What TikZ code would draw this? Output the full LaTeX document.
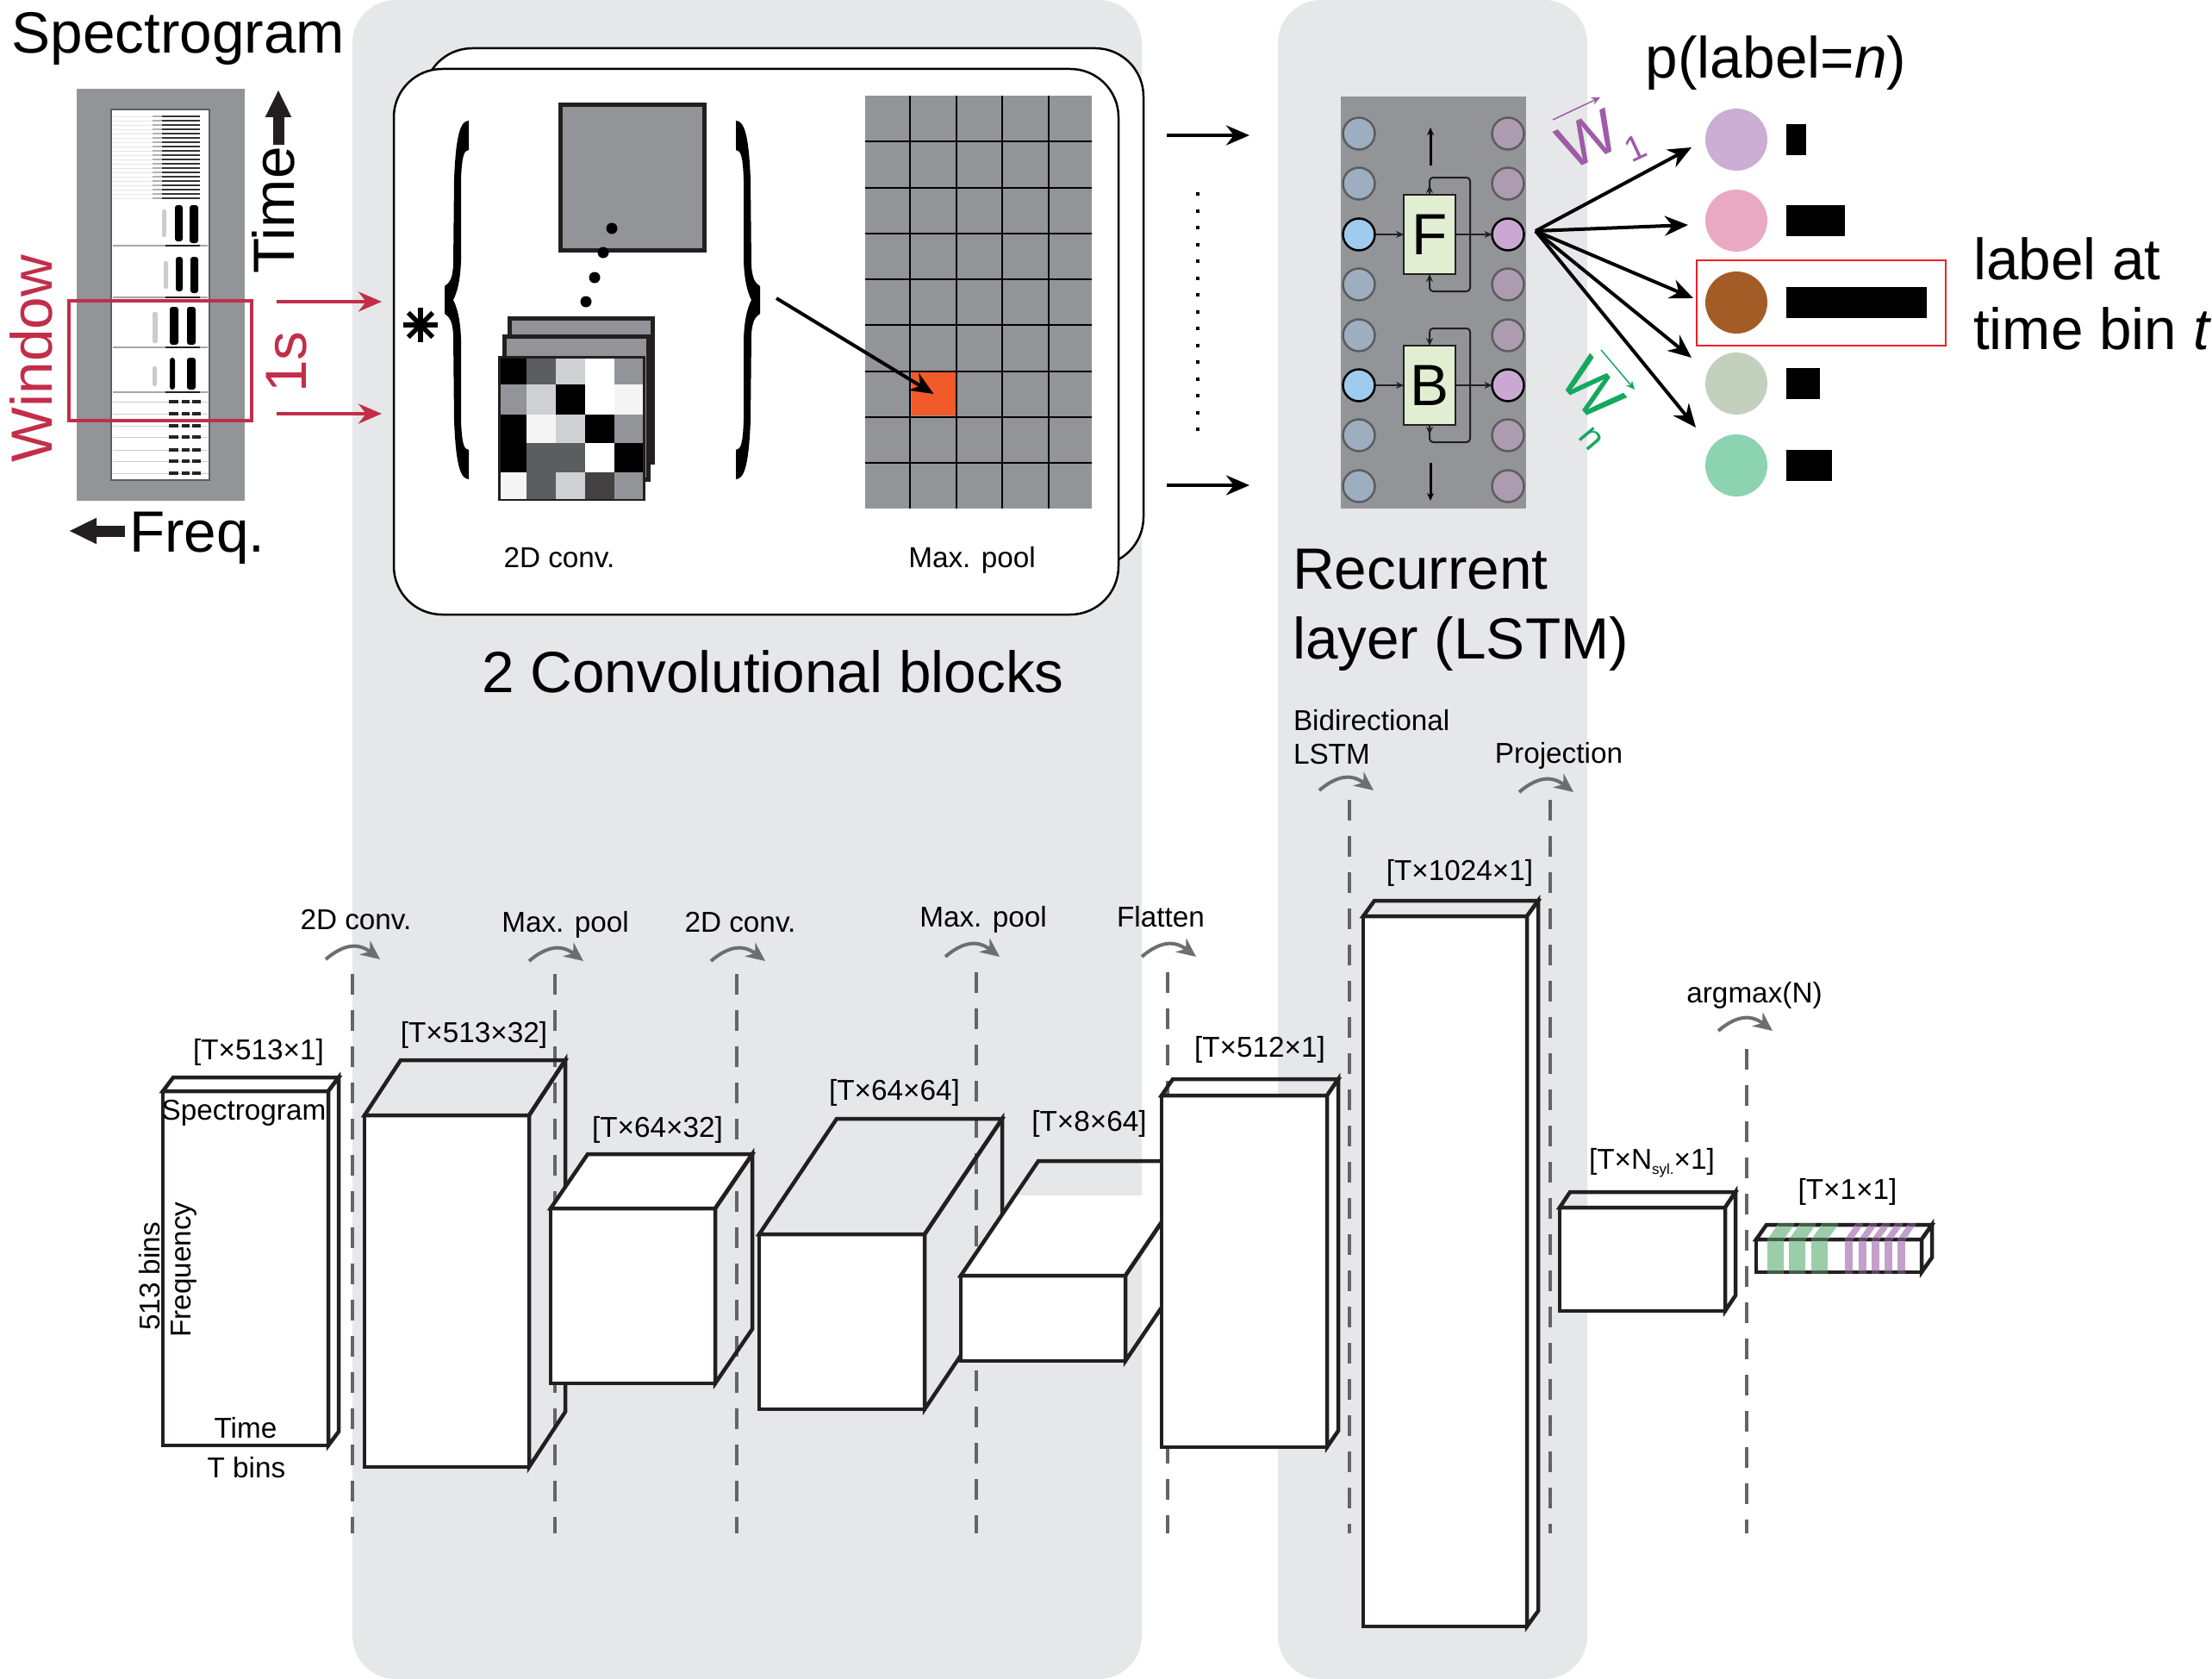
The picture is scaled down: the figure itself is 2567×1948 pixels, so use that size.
\documentclass[tikz,border=0pt]{standalone}
\usepackage{fontspec}
\setmainfont{Liberation Sans}
\usetikzlibrary{arrows.meta,calc}

\definecolor{panelgray}{HTML}{E6E7E8}
\definecolor{cellgray}{HTML}{929497}
\definecolor{darkcell}{HTML}{5C5D5F}
\definecolor{lightcell}{HTML}{CFD0D2}
\definecolor{offwhite}{HTML}{F4F5F4}
\definecolor{inkblack}{HTML}{231F20}
\definecolor{dashgray}{HTML}{636466}
\definecolor{bendgray}{HTML}{6D6E71}
\definecolor{windowred}{HTML}{C22E4A}
\definecolor{labelred}{HTML}{ED2024}
\definecolor{poolorange}{HTML}{F15A29}
\definecolor{cellgreen}{HTML}{E2EED2}
\definecolor{wpurple}{HTML}{9E5BA8}
\definecolor{wgreen}{HTML}{15A85F}
\definecolor{stripegreen}{HTML}{9ACDA8}
\definecolor{stripepurple}{HTML}{C3A0CC}
\definecolor{lstmblue}{HTML}{9CAEBF}
\definecolor{lstmmauve}{HTML}{AD9CB0}
\definecolor{lstmsky}{HTML}{9FCBEF}
\definecolor{lstmlilac}{HTML}{CBA8D3}

% one layer of the network: front face is the node, then top and side faces
\newcommand{\layerbox}[9]{
  \node[frontface, minimum width=#4pt, minimum height=#5pt] (#1) at (#2,#3) {};
  \draw[boxline, fill=#8] (#1.north west) -- ++(#6,#7) -- ++(#4,0) -- (#1.north east) -- cycle;
  \draw[boxline, fill=#9] (#1.north east) -- ++(#6,#7) -- ++(0,#5) -- (#1.south east) -- cycle;
}

\begin{document}
\begin{tikzpicture}[x=1pt, y=-1pt,
  every node/.style = {inner sep=0pt, outer sep=0pt},
  bigtext/.style = {font=\fontsize{67.5}{81}\selectfont},
  smalltext/.style = {font=\fontsize{33.3}{39}\selectfont},
  weighttext/.style = {font=\fontsize{72}{81}\selectfont},
  subtext/.style = {font=\fontsize{41}{45}\selectfont},
  panel/.style = {fill=panelgray, rounded corners=50pt, anchor=north west},
  card/.style = {draw=black, fill=white, line width=2.5pt, rounded corners=56pt, anchor=north west},
  frontface/.style = {draw=inkblack, fill=white, line width=4.5pt, anchor=north west},
  boxline/.style = {draw=inkblack, line width=4.5pt, line join=miter},
  filterbox/.style = {draw=inkblack, fill=cellgray, line width=5pt, anchor=north west},
  lstmcell/.style = {draw=inkblack, fill=cellgreen, line width=2pt, anchor=center,
    minimum width=60pt, minimum height=92pt},
  incircle/.style = {circle, draw=#1, line width=2.5pt, minimum size=37pt},
  redarrow/.style = {-{Stealth[length=27pt,width=23pt]}, draw=windowred, line width=4pt},
  blackarrow/.style = {-{Stealth[length=27pt,width=23pt]}, draw=black, line width=4pt},
  thinarrow/.style = {-{Stealth[length=9pt,width=8pt]}, draw=inkblack, line width=2pt},
  looppath/.style = {thinarrow, rounded corners=4pt},
  dashline/.style = {draw=dashgray, line width=4.5pt, dash pattern=on 24pt off 18pt},
  bendarrow/.style = {-{Stealth[length=22pt,width=20pt,inset=7pt]}, draw=bendgray, line width=4pt},
  blockarrow/.style = {-{Triangle[length=32pt,width=28pt]}, draw=inkblack, line width=13pt}]
  \useasboundingbox (0,0) rectangle (2567,1948);

  % gray panels
  \node[panel, minimum width=916pt, minimum height=1948pt] (convpanel) at (409,0) {};
  \node[panel, minimum width=359pt, minimum height=1948pt] (lstmpanel) at (1483,0) {};

  % spectrogram
  \node[bigtext] (spectitle) at (207,45) {Spectrogram};
  \node[fill=cellgray, anchor=north west, minimum width=195pt, minimum height=478pt] (specback) at (89,103) {};
  \node[draw=darkcell, fill=white, line width=2pt, anchor=north west, minimum width=114pt, minimum height=430pt] (specwhite) at (129,127) {};
  \foreach \y in {135,140,...,230}{
    \draw[black, line width=2.6pt, opacity=.8] (188,\y) -- (232,\y);
    \draw[black, line width=1.6pt, opacity=.3] (177,\y) -- (188,\y);
    \draw[black, line width=.7pt, opacity=.1] (131,\y) -- (177,\y);
  }
  \foreach \xa/\xb/\ya/\yb in {203/212/238/280, 220/230/238/282, 204/212/298/338, 221/230/298/340,
    197/207/356/400, 217/227/356/400, 197/203/415/452, 217/227/415/452}
    \fill[black, rounded corners=3pt] (\xa,\ya) rectangle (\xb,\yb);
  \foreach \xa/\xb/\ya/\yb in {188/193/243/275, 190/195/303/335, 177/183/362/398, 177/182/425/448}
    \fill[black, opacity=.2, rounded corners=2pt] (\xa,\ya) rectangle (\xb,\yb);
  \foreach \y in {285,345,403,455}{
    \draw[black, line width=1.2pt, opacity=.35] (131,\y) -- (241,\y);
    \draw[black, line width=2.6pt, opacity=.8] (192,\y) -- (232,\y);
  }
  \foreach \y in {466,480,494,507,522,535,549}{
    \draw[black, line width=.8pt, opacity=.2] (131,\y) -- (241,\y);
    \foreach \xa/\xb in {196/207, 211/220, 223/233}
      \draw[black, line width=3.5pt, opacity=.85] (\xa,\y) -- (\xb,\y);
  }
  \node[draw=windowred, line width=4pt, anchor=north west, minimum width=212pt, minimum height=139pt] (windowbox) at (80,349) {};
  \node[bigtext, text=windowred, rotate=90] (windowtext) at (36,416) {Window};
  \node[bigtext, text=windowred, rotate=90] (onesec) at (333,420) {1s};
  \node[bigtext, rotate=90] (timetext) at (317,244) {Time};
  \node[bigtext, anchor=west] (freqtext) at (150,624) {Freq.};
  \coordinate (timestart) at (323,168);
  \coordinate (timeend) at (323,104);
  \coordinate (freqstart) at (145,616);
  \coordinate (freqend) at (80,616);
  \draw[blockarrow] (timestart) -- (timeend);
  \draw[blockarrow] (freqstart) -- (freqend);
  \coordinate (winA) at (321,350);
  \coordinate (winB) at (321,480);
  \coordinate (cardA) at (443,350);
  \coordinate (cardB) at (443,480);
  \draw[redarrow] (winA) -- (cardA);
  \draw[redarrow] (winB) -- (cardB);

  % convolutional block cards
  \node[card, minimum width=835pt, minimum height=600pt] (cardback) at (492,56) {};
  \node[card, minimum width=841pt, minimum height=633pt] (cardfront) at (457,80) {};

  % braces and star
  \tikzset{bracket/.pic = {
    \fill[black] (28,-208) .. controls (18,-208) and (13,-190) .. (11,-140) -- (10,-40)
      .. controls (9,-25) and (6,-20) .. (0,-16) -- (0,16) .. controls (6,20) and (9,25) .. (10,40)
      -- (11,140) .. controls (13,190) and (18,208) .. (28,208) -- (28,174)
      .. controls (22,174) and (20,165) .. (19,140) -- (19,45) .. controls (18,20) and (14,8) .. (10,0)
      .. controls (14,-8) and (18,-20) .. (19,-45) -- (19,-140)
      .. controls (20,-165) and (22,-174) .. (28,-174) -- cycle;
  }}
  \pic at (516,348) {bracket};
  \pic[xscale=-1] at (882,348) {bracket};
  \foreach \a in {0,45,90,135}
    \draw[black, line width=5.5pt, rotate around={\a:(488,377)}] (468,377) -- (508,377);

  % filters
  \node[filterbox, minimum width=167pt, minimum height=168pt] (kernelA) at (650.5,122) {};
  \foreach \x/\y in {710/265, 700/293, 690/322, 680/350}
    \fill[black] (\x,\y) circle (6.5pt);
  \node[filterbox, minimum width=166pt, minimum height=167pt] (kernelB) at (591.5,369) {};
  \node[filterbox, minimum width=167pt, minimum height=166pt] (kernelC) at (585.5,390.5) {};
  \node[filterbox, fill=white, minimum width=166pt, minimum height=163pt] (kernelD) at (580.5,415.5) {};
  \foreach \row/\ya/\yb/\ca/\cb/\cc/\cd/\ce in {
    1/416/446/black/darkcell/lightcell/white/cellgray,
    2/446/481/cellgray/lightcell/black/white/offwhite,
    3/481/514/black/offwhite/lightcell/black/cellgray,
    4/514/548/black/darkcell/darkcell/white/black,
    5/548/579/offwhite/darkcell/lightcell/inkblack!85/cellgray}{
    \fill[\ca] (581,\ya) rectangle (611,\yb);
    \fill[\cb] (611,\ya) rectangle (645,\yb);
    \fill[\cc] (645,\ya) rectangle (679,\yb);
    \fill[\cd] (679,\ya) rectangle (713,\yb);
    \fill[\ce] (713,\ya) rectangle (746,\yb);
  }
  \node[smalltext] (convtext) at (649,647) {2D conv.};

  % max pool grid
  \node[fill=cellgray, anchor=north west, minimum width=263pt, minimum height=479pt] (poolgrid) at (1004,111) {};
  \foreach \x in {1056,1110,1163,1217}
    \draw[black, line width=2pt] (\x,111) -- (\x,590);
  \foreach \y in {164,218,271,324,377,431,484,537}
    \draw[black, line width=2pt] (1004,\y) -- (1267,\y);
  \node[fill=poolorange, anchor=north west, minimum width=51pt, minimum height=50pt] (poolcell) at (1058,432) {};
  \coordinate (bracketout) at (901,346);
  \draw[blackarrow] (bracketout) -- (poolcell.center);
  \node[smalltext] (pooltext) at (1128,650) {Max. pool};
  \node[bigtext] (convtitle) at (897,779) {2 Convolutional blocks};

  % between the blocks
  \coordinate (midAs) at (1354,157);
  \coordinate (midAe) at (1450,157);
  \coordinate (midBs) at (1354,563);
  \coordinate (midBe) at (1450,563);
  \coordinate (dotsA) at (1390,223);
  \coordinate (dotsB) at (1390,500);
  \draw[blackarrow] (midAs) -- (midAe);
  \draw[blackarrow] (midBs) -- (midBe);
  \draw[black, line width=4pt, dash pattern=on 4pt off 15.5pt] (dotsA) -- (dotsB);

  % recurrent layer
  \node[fill=cellgray, anchor=north west, minimum width=215pt, minimum height=478pt] (lstmback) at (1556,112) {};
  \foreach \n/\y in {1/155, 2/213, 4/330, 5/389, 7/505, 8/564}{
    \node[incircle=darkcell, fill=lstmblue] (inl\n) at (1577,\y) {};
    \node[incircle=darkcell, fill=lstmmauve] (outr\n) at (1750,\y) {};
  }
  \foreach \n/\y in {3/272, 6/447}{
    \node[incircle=black, fill=lstmsky] (inl\n) at (1577,\y) {};
    \node[incircle=black, fill=lstmlilac] (outr\n) at (1750,\y) {};
  }
  \node[lstmcell, bigtext] (Fcell) at (1659,272) {F};
  \node[lstmcell, bigtext] (Bcell) at (1659,447) {B};
  \draw[thinarrow] (inl3) -- (Fcell);
  \draw[thinarrow] (Fcell) -- (outr3);
  \draw[thinarrow] (inl6) -- (Bcell);
  \draw[thinarrow] (Bcell) -- (outr6);
  \draw[looppath] (Fcell.north) -- ++(0,-20) -- ++(47,0) -- ++(0,132) -- ++(-47,0) -- (Fcell.south);
  \draw[thinarrow] (Fcell.north) -- ++(0,-11);
  \draw[looppath] (Bcell.south) -- ++(0,20) -- ++(47,0) -- ++(0,-132) -- ++(-47,0) -- (Bcell.north);
  \draw[thinarrow] (Bcell.south) -- ++(0,11);
  \coordinate (upS) at (1660,192);
  \coordinate (upE) at (1660,148);
  \coordinate (downS) at (1660,537);
  \coordinate (downE) at (1660,581);
  \draw[thinarrow, draw=black, line width=3pt] (upS) -- (upE);
  \draw[thinarrow, draw=black, line width=3pt] (downS) -- (downE);
  \node[bigtext, align=left, anchor=west] (lstmtitle) at (1500,708) {Recurrent\\layer (LSTM)};

  % output labels
  \node[bigtext] (ptext) at (2061,73) {p(label=\textit{n})};
  \node[bigtext, align=left, anchor=west] (binlabel) at (2290,341) {label at\\time bin \textit{t}};
  \foreach \n/\y/\col/\barlen in {1/162/CCADD4/23, 2/256/E9A9C2/68, 3/351/A45C26/163, 4/445/C3D0BC/39, 5/540/8BD3B1/53}{
    \definecolor{outcol}{HTML}{\col}
    \node[circle, fill=outcol, minimum size=72pt] (out\n) at (2015,\y) {};
    \node[fill=black, anchor=west, minimum width=\barlen pt, minimum height=36pt] (bar\n) at (2073,\y) {};
  }
  \node[draw=labelred, line width=2.5pt, anchor=north west, minimum width=289pt, minimum height=99pt] (labelbox) at (1969,302) {};
  \coordinate (fan) at (1782,268);
  \foreach \n/\x/\y in {1/1963/171, 2/1959/261, 3/1965/346, 4/1963/415, 5/1968/496}{
    \coordinate (tip\n) at (\x,\y);
    \draw[blackarrow] (fan) -- (tip\n);
  }

  % weights
  \node[weighttext, text=wpurple, rotate=25] (wone) at (1843,162) {W};
  \node[subtext, text=wpurple, rotate=25] (wonesub) at (1898,172) {1};
  \coordinate (wonea) at (1802,139);
  \coordinate (woneb) at (1857,113);
  \draw[-{Stealth[length=10pt,width=9pt]}, wpurple, line width=1.5pt] (wonea) -- (woneb);
  \node[weighttext, text=wgreen, rotate=-50] (wn) at (1848,452) {W};
  \node[subtext, text=wgreen, rotate=-50] (wnsub) at (1846,509) {n};
  \coordinate (wna) at (1858,406);
  \coordinate (wnb) at (1897,452);
  \draw[-{Stealth[length=10pt,width=9pt]}, wgreen, line width=1.5pt] (wna) -- (wnb);

  % layer boundaries
  \foreach \n/\x/\top/\ox/\oy in {a/409/1130/-31/-17, b/644/1130/-30/-15, c/855/1130/-30/-15, d/1133/1128/-36/-18,
    e/1355/1128/-30/-18, f/1566/928/-35/-11, g/1799/928/-36/-9, h/2027/1217/-33/-21}{
    \coordinate (dash\n) at (\x,\top);
    \coordinate (foot\n) at (\x,1779);
    \draw[dashline] (dash\n) -- (foot\n);
    \coordinate (bendS\n) at ($(dash\n)+(\ox,\oy)$);
    \coordinate (bendE\n) at ($(bendS\n)+(63,0)$);
    \draw[bendarrow] (bendS\n) .. controls ($(bendS\n)+(20,-17)$) and ($(bendE\n)+(-26,-20)$) .. (bendE\n);
  }
  \node[smalltext] (steptextA) at (413,1067) {2D conv.};
  \node[smalltext] (steptextB) at (656,1073) {Max. pool};
  \node[smalltext] (steptextC) at (859,1070) {2D conv.};
  \node[smalltext] (steptextD) at (1141,1067) {Max. pool};
  \node[smalltext] (steptextE) at (1347,1064) {Flatten};
  \node[smalltext, align=left, anchor=west] (steptextF) at (1501,855) {Bidirectional\\LSTM};
  \node[smalltext] (steptextG) at (1809,877) {Projection};
  \node[smalltext] (steptextH) at (2036,1155) {argmax(N)};

  % layers
  \layerbox{specin}{189}{1266}{192}{411}{12}{-16}{white}{white}
  \layerbox{convA}{423}{1294}{191}{408}{42}{-64}{none}{none}
  \layerbox{poolA}{639}{1402}{191}{203}{43}{-63}{white}{none}
  \layerbox{convB}{881}{1432}{192}{203}{90}{-134}{none}{none}
  \fill[white] (1115,1480) -- (1306,1480) -- (1369,1387) -- (1178,1387) -- cycle;
  \layerbox{poolB}{1115}{1480}{191}{99}{90}{-133}{none}{none}
  \layerbox{flat}{1348}{1271}{192}{408}{13}{-19}{none}{white}
  \layerbox{recur}{1582}{1063}{190}{824}{13}{-18}{none}{white}
  \layerbox{proj}{1810}{1401}{192}{120}{12}{-18}{none}{white}
  \layerbox{result}{2038}{1438}{192}{38}{12}{-17}{white}{white}
  \foreach \x/\w/\col in {2051/19/stripegreen, 2076/19/stripegreen, 2102/19/stripegreen,
    2141/9/stripepurple, 2157/9/stripepurple, 2172/9/stripepurple, 2187/9/stripepurple, 2202/9/stripepurple}{
    \fill[\col] (\x,1438) rectangle ++(\w,38);
    \fill[\col] (\x,1438) -- ++(12,-17) -- ++(\w,0) -- ++(-12,17) -- cycle;
    \draw[\col!45!black, line width=4.5pt] (\x,1438) -- ++(\w,0);
    \draw[\col!45!black, line width=4.5pt] (\x,1476) -- ++(\w,0);
    \draw[\col!45!black, line width=4.5pt] ($(\x,1421)+(12,0)$) -- ++(\w,0);
  }

  % layer labels
  \node[smalltext] (dimA) at (300,1221) {[T×513×1]};
  \node[smalltext] (dimB) at (550,1201) {[T×513×32]};
  \node[smalltext] (dimC) at (763,1311) {[T×64×32]};
  \node[smalltext] (dimD) at (1038,1268) {[T×64×64]};
  \node[smalltext] (dimE) at (1264,1304) {[T×8×64]};
  \node[smalltext] (dimF) at (1462,1218) {[T×512×1]};
  \node[smalltext] (dimG) at (1694,1013) {[T×1024×1]};
  \node[smalltext] (dimH) at (1917,1349) {[T×N\raisebox{-6pt}{\fontsize{17}{17}\selectfont syl.}×1]};
  \node[smalltext] (dimI) at (2144,1383) {[T×1×1]};
  \node[smalltext] (intitle) at (283,1291) {Spectrogram};
  \node[smalltext, rotate=90] (infreq) at (213,1473) {Frequency};
  \node[smalltext, rotate=90] (inbins) at (174,1481) {513 bins};
  \node[smalltext] (intime) at (285,1657) {Time};
  \node[smalltext] (intbins) at (286,1703) {T bins};
\end{tikzpicture}
\end{document}
